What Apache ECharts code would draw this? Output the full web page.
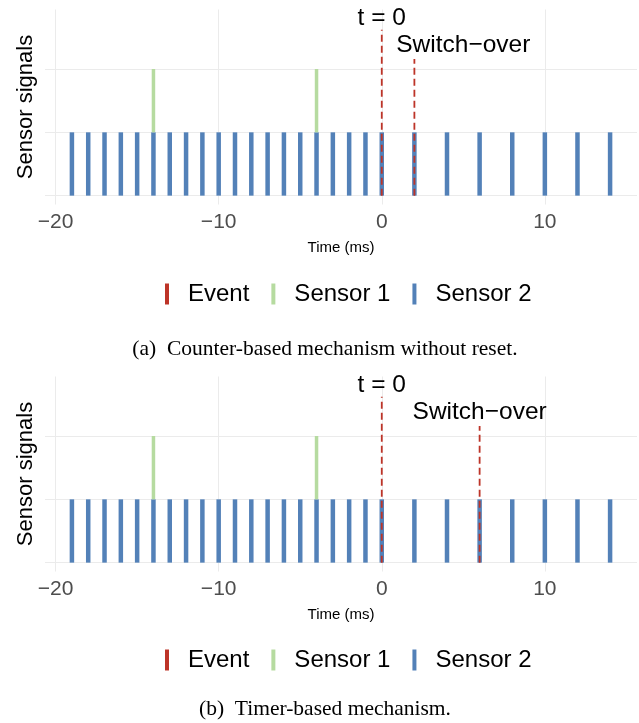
<!DOCTYPE html>
<html>
<head>
<meta charset="utf-8">
<script src="https://cdn.jsdelivr.net/npm/echarts@6/dist/echarts.min.js"></script>
<style>
  html, body { margin: 0; padding: 0; background: #fff; }
  #chart { width: 639px; height: 723px; }
</style>
</head>
<body>
<div id="chart"></div>
<script>
// Data
const sensor2Times = [-19, -18, -17, -16, -15, -14, -13, -12, -11, -10, -9, -8, -7, -6, -5, -4, -3, -2, -1, 0, 2, 4, 6, 8, 10, 12, 14];
const sensor1Times = [-14, -4];
const sensor2Level = [0, 1];
const sensor1Level = [1, 2];

const eventTimesA = [0, 2];   // counter-based
const eventTimesB = [0, 6];   // timer-based
const eventTops = [2.62, 2.16];
const eventLabels = ['t = 0', 'Switch\u2212over'];
const labelXA = [0, 5];
const labelXB = [0, 6];
const labelY = [2.8, 2.37];

const xTicks = [-20, -10, 0, 10];
const yTicks = [0, 1, 2];
const captions = ['(a)  Counter-based mechanism without reset.', '(b)  Timer-based mechanism.'];

const RED = '#bd3428';
const GREEN = '#b6dba0';
const BLUE = '#5381b8';
const SANS = '"Liberation Sans", Arial, sans-serif';
const SERIF = '"Liberation Serif", "Times New Roman", serif';

const chart = echarts.init(document.getElementById('chart'));

// vertical pulse from (t, y0) to (t, y1)
function pulseItem(width) {
    return function (params, api) {
        const p0 = api.coord([api.value(0), api.value(1)]);
        const p1 = api.coord([api.value(0), api.value(2)]);
        return {
            type: 'line',
            shape: { x1: p0[0], y1: p0[1], x2: p1[0], y2: p1[1] },
            style: { stroke: api.visual('color'), lineWidth: width }
        };
    };
}

function eventItem(params, api) {
    const p0 = api.coord([api.value(0), 0]);
    const p1 = api.coord([api.value(0), api.value(1)]);
    const pt = api.coord([api.value(2), api.value(3)]);
    return {
        type: 'group',
        children: [
            {
                type: 'line',
                shape: { x1: p0[0], y1: p0[1], x2: p1[0], y2: p1[1] },
                style: { stroke: api.visual('color'), lineWidth: 1.8, lineDash: [7, 4] }
            },
            {
                type: 'text',
                style: {
                    text: eventLabels[params.dataIndex],
                    x: pt[0], y: pt[1],
                    align: 'center', verticalAlign: 'middle',
                    fill: '#000', fontSize: 24.5, fontFamily: SANS
                }
            }
        ]
    };
}

const gridTops = [9.5, 376.5];
const legendTops = [277, 643];
const captionYs = [349, 709];

const grids = [], xAxes = [], yAxes = [], legends = [], series = [], graphics = [];

[eventTimesA, eventTimesB].forEach((eventTimes, i) => {
    const labelX = i === 0 ? labelXA : labelXB;
    grids.push({
        left: 45, right: 2, top: gridTops[i], height: 195,
        containLabel: false, outerBoundsMode: 'none'
    });
    xAxes.push({
        type: 'value', gridIndex: i, min: -20.65, max: 15.65,
        name: 'Time (ms)', nameLocation: 'middle', nameGap: 36,
        nameTextStyle: { fontSize: 15, color: '#000', fontFamily: SANS },
        axisLine: { show: false },
        axisTick: { show: false, customValues: xTicks },
        axisLabel: {
            customValues: xTicks, fontSize: 21, color: '#4d4d4d', fontFamily: SANS, margin: 7,
            formatter: v => String(v).replace('-', '\u2212')
        },
        splitLine: { show: true, lineStyle: { color: '#ebebeb', width: 1 } }
    });
    yAxes.push({
        type: 'value', gridIndex: i, min: -0.14, max: 2.94,
        name: 'Sensor signals', nameLocation: 'middle', nameGap: 8,
        nameTextStyle: { fontSize: 22, color: '#000', fontFamily: SANS },
        axisLine: { show: false },
        axisTick: { show: false, customValues: yTicks },
        axisLabel: { show: false, customValues: yTicks },
        splitLine: { show: true, lineStyle: { color: '#ebebeb', width: 1 } }
    });
    legends.push({
        top: legendTops[i], left: 160,
        data: ['Event', 'Sensor 1', 'Sensor 2'],
        icon: 'rect', itemWidth: 4, itemHeight: 21, itemGap: 22,
        selectedMode: false,
        textStyle: { fontSize: 24, color: '#000', fontFamily: SANS, padding: [0, 0, 0, 14] }
    });
    series.push({
        name: 'Sensor 2', type: 'custom', xAxisIndex: i, yAxisIndex: i,
        itemStyle: { color: BLUE },
        renderItem: pulseItem(4.5),
        encode: { x: 0, y: [1, 2] },
        data: sensor2Times.map(t => [t, sensor2Level[0], sensor2Level[1]])
    });
    series.push({
        name: 'Sensor 1', type: 'custom', xAxisIndex: i, yAxisIndex: i,
        itemStyle: { color: GREEN },
        renderItem: pulseItem(3.5),
        encode: { x: 0, y: [1, 2] },
        data: sensor1Times.map(t => [t, sensor1Level[0], sensor1Level[1]])
    });
    series.push({
        name: 'Event', type: 'custom', xAxisIndex: i, yAxisIndex: i,
        itemStyle: { color: RED },
        renderItem: eventItem,
        encode: { x: 0, y: 1 },
        data: eventTimes.map((t, k) => [t, eventTops[k], labelX[k], labelY[k]])
    });
    graphics.push({
        type: 'text', x: 325, y: captionYs[i],
        style: {
            text: captions[i], align: 'center', verticalAlign: 'middle',
            fill: '#000', fontSize: 21.5, fontFamily: SERIF
        }
    });
});

chart.setOption({
    animation: false,
    color: [BLUE, GREEN, RED],
    grid: grids,
    xAxis: xAxes,
    yAxis: yAxes,
    legend: legends,
    series: series,
    graphic: graphics
});

window.addEventListener('resize', function () {
    chart.resize();
});
</script>
</body>
</html>
